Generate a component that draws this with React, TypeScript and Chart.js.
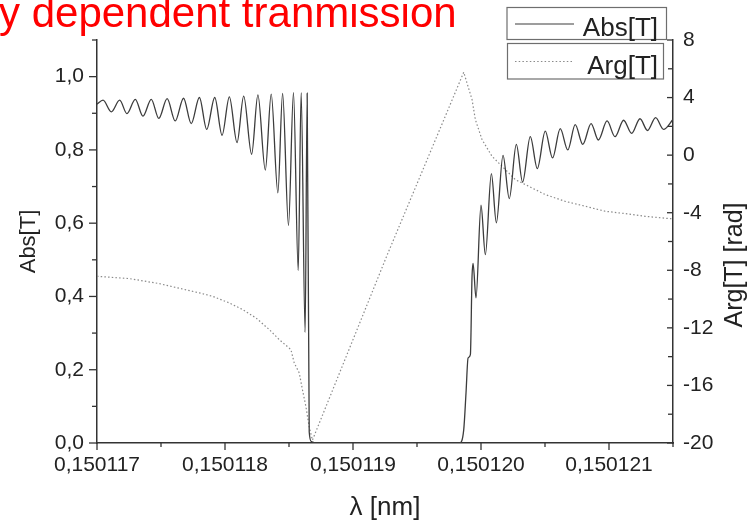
import React, { useEffect, useRef } from 'react';
import { Chart, registerables } from 'chart.js';

Chart.register(...registerables);

const FONT = '"Liberation Sans", Arial, Helvetica, sans-serif';

// x values are offsets in units of 1e-6 nm from 0.150117 nm
const absX = [0, 0.047, 0.112, 0.177, 0.234, 0.299, 0.359, 0.424, 0.483, 0.548, 0.611, 0.676, 0.736, 0.8, 0.857, 0.92, 0.977, 1.034, 1.094, 1.146, 1.208, 1.257, 1.315, 1.361, 1.413, 1.45, 1.496, 1.535, 1.572, 1.595, 1.626, 1.642, 1.658, 1.675, 1.72, 2.3, 2.832, 2.865, 2.883, 2.899, 2.917, 2.93, 2.938, 2.961, 3.0, 3.034, 3.081, 3.12, 3.172, 3.221, 3.276, 3.325, 3.385, 3.44, 3.502, 3.559, 3.619, 3.678, 3.736, 3.795, 3.86, 3.917, 3.985, 4.047, 4.114, 4.177, 4.242, 4.301, 4.364, 4.426, 4.5];
const absY = [0.925, 0.936, 0.904, 0.936, 0.899, 0.938, 0.892, 0.938, 0.886, 0.94, 0.879, 0.941, 0.872, 0.943, 0.856, 0.943, 0.84, 0.945, 0.82, 0.947, 0.788, 0.95, 0.745, 0.952, 0.683, 0.954, 0.594, 0.956, 0.471, 0.956, 0.302, 0.955, 0.03, 0.004, 0, 0, 0, 0.036, 0.137, 0.232, 0.241, 0.455, 0.49, 0.396, 0.649, 0.514, 0.735, 0.601, 0.785, 0.667, 0.815, 0.712, 0.836, 0.749, 0.851, 0.778, 0.858, 0.8, 0.869, 0.815, 0.872, 0.827, 0.879, 0.836, 0.881, 0.845, 0.885, 0.853, 0.888, 0.856, 0.883];

const argX = [0, 0.255, 0.489, 0.8, 0.904, 1.034, 1.138, 1.242, 1.346, 1.424, 1.515, 1.541, 1.58, 1.605, 1.632, 1.657, 1.683, 2.265, 2.865, 2.93, 2.956, 3.008, 3.086, 3.164, 3.268, 3.372, 3.502, 3.658, 3.814, 3.97, 4.125, 4.281, 4.5];
const argY = [-8.42, -8.58, -8.93, -9.57, -9.81, -10.27, -10.73, -11.31, -12.12, -12.82, -13.51, -14.44, -15.13, -16.3, -17.46, -18.85, -19.8, -6.98, 5.76, 3.86, 2.47, 1.08, -0.08, -0.77, -1.7, -2.16, -2.74, -3.21, -3.55, -3.9, -4.06, -4.25, -4.43];

const xTickLabels = ['0,150117', '0,150118', '0,150119', '0,150120', '0,150121'];
const leftTickLabels = ['0,0', '0,2', '0,4', '0,6', '0,8', '1,0'];
const rightTickLabels = ['-20', '-16', '-12', '-8', '-4', '0', '4', '8'];
const seriesNames = ['Abs[T]', 'Arg[T]'];
const titleText = 'y dependent tranmission';
const xTitle = 'λ [nm]';
const yTitle = 'Abs[T]';
const y2Title = 'Arg[T] [rad]';

const AXIS = '#333333';
const TEXT = '#222222';

const extrasPlugin = {
  id: 'extras',
  afterDraw(chart: any) {
    const ctx = chart.ctx;
    const area = chart.chartArea;
    const xs = chart.scales.x;
    const ys = chart.scales.y;
    const y2s = chart.scales.y2;
    ctx.save();
    ctx.strokeStyle = AXIS;
    ctx.lineWidth = 1.3;
    ctx.setLineDash([]);
    const line = (x1: number, y1: number, x2: number, y2: number) => {
      ctx.beginPath();
      ctx.moveTo(x1, y1);
      ctx.lineTo(x2, y2);
      ctx.stroke();
    };
    // x ticks (major + minor), outward
    for (let k = 0; k <= 9; k++) {
      const px = xs.getPixelForValue(k * 0.5);
      line(px, area.bottom, px, area.bottom + (k % 2 === 0 ? 7 : 4));
    }
    // left ticks, outward
    for (let k = 0; k <= 11; k++) {
      const py = ys.getPixelForValue(k * 0.1);
      line(area.left - (k % 2 === 0 ? 8 : 5), py, area.left, py);
    }
    // right ticks, inward
    for (let k = 0; k <= 14; k++) {
      const py = y2s.getPixelForValue(-20 + k * 2);
      line(area.right - (k % 2 === 0 ? 6 : 5), py, area.right, py);
    }

    // right axis title (reads bottom to top)
    ctx.fillStyle = TEXT;
    ctx.font = `25px ${FONT}`;
    ctx.textAlign = 'center';
    ctx.textBaseline = 'middle';
    ctx.save();
    ctx.translate(735, 265);
    ctx.rotate(-Math.PI / 2);
    ctx.fillText(y2Title, 0, 0);
    ctx.restore();

    // legend
    const boxes = [
      { x: 507, y: 7.5, w: 159.5, h: 32, sy: 24, ty: 35.5, dash: [] as number[], color: '#3c3c3c' },
      { x: 507.5, y: 43.5, w: 156, h: 35.5, sy: 61.5, ty: 73.5, dash: [1.5, 2.2], color: '#8a8a8a' },
    ];
    boxes.forEach((b, i) => {
      ctx.setLineDash([]);
      ctx.fillStyle = '#ffffff';
      ctx.fillRect(b.x, b.y, b.w, b.h);
      ctx.strokeStyle = '#6e6e6e';
      ctx.lineWidth = 1.2;
      ctx.strokeRect(b.x, b.y, b.w, b.h);
      ctx.strokeStyle = b.color;
      ctx.lineWidth = 1.2;
      ctx.setLineDash(b.dash);
      line(515, b.sy, 574, b.sy);
      ctx.setLineDash([]);
      ctx.fillStyle = TEXT;
      ctx.font = `26px ${FONT}`;
      ctx.textAlign = 'right';
      ctx.textBaseline = 'alphabetic';
      ctx.fillText(seriesNames[i], 658, b.ty);
    });

    // red title
    ctx.fillStyle = '#ff0000';
    ctx.font = `42px ${FONT}`;
    ctx.textAlign = 'left';
    ctx.textBaseline = 'alphabetic';
    ctx.fillText(titleText, -1, 27);
    ctx.restore();
  },
};

export default function App() {
  const canvasRef = useRef<HTMLCanvasElement | null>(null);

  useEffect(() => {
    if (!canvasRef.current) return;
    const chart = new Chart(canvasRef.current, {
      type: 'line',
      data: {
        datasets: [
          {
            label: seriesNames[0],
            data: absX.map((x, i) => ({ x, y: absY[i] })),
            borderColor: '#3c3c3c',
            borderWidth: 1.3,
            pointRadius: 0,
            cubicInterpolationMode: 'monotone',
            yAxisID: 'y',
          },
          {
            label: seriesNames[1],
            data: argX.map((x, i) => ({ x, y: argY[i] })),
            borderColor: '#8a8a8a',
            borderWidth: 1.2,
            borderDash: [1.5, 2.2],
            pointRadius: 0,
            tension: 0,
            yAxisID: 'y2',
          },
        ],
      },
      options: {
        animation: false,
        responsive: false,
        layout: { padding: { top: 40, left: 0, right: 0, bottom: 0 } },
        plugins: {
          legend: { display: false },
          tooltip: { enabled: false },
          title: { display: false },
        },
        scales: {
          x: {
            type: 'linear',
            position: 'bottom',
            min: 0,
            max: 4.5,
            afterFit: (s: any) => { s.height = 78; },
            grid: { display: false, drawTicks: false },
            border: { display: true, color: AXIS, width: 1.5 },
            ticks: {
              stepSize: 1,
              includeBounds: false,
              autoSkip: false,
              maxRotation: 0,
              padding: 10,
              color: TEXT,
              font: { family: FONT, size: 21 },
              callback: (v: any) => {
                const r = Math.round(Number(v));
                return Math.abs(Number(v) - r) < 1e-6 && xTickLabels[r] !== undefined ? xTickLabels[r] : '';
              },
            },
            title: {
              display: true,
              text: xTitle,
              color: TEXT,
              font: { family: FONT, size: 26, lineHeight: 1 },
              padding: { top: 0, bottom: 0 },
            },
          },
          y: {
            type: 'linear',
            position: 'left',
            min: 0,
            max: 1.1,
            afterFit: (s: any) => { s.width = 97; },
            grid: { display: false, drawTicks: false },
            border: { display: true, color: AXIS, width: 1.5 },
            ticks: {
              stepSize: 0.2,
              includeBounds: false,
              autoSkip: false,
              padding: 13,
              color: TEXT,
              font: { family: FONT, size: 21 },
              callback: (v: any) => {
                const k = Math.round(Number(v) / 0.2);
                return leftTickLabels[k] ?? '';
              },
            },
            title: {
              display: true,
              text: yTitle,
              color: TEXT,
              font: { family: FONT, size: 22 },
              padding: { top: 16, bottom: 0 },
            },
          },
          y2: {
            type: 'linear',
            position: 'right',
            min: -20,
            max: 8,
            afterFit: (s: any) => { s.width = 76; },
            grid: { display: false, drawTicks: false },
            border: { display: true, color: AXIS, width: 1.5 },
            ticks: {
              stepSize: 4,
              autoSkip: false,
              padding: 10,
              color: TEXT,
              font: { family: FONT, size: 21 },
              callback: (v: any) => {
                const k = Math.round((Number(v) + 20) / 4);
                return rightTickLabels[k] ?? '';
              },
            },
            title: { display: false },
          },
        },
      },
      plugins: [extrasPlugin],
    } as any);
    return () => chart.destroy();
  }, []);

  return (
    <div style={{ position: 'absolute', left: 0, top: 0, width: 749, height: 521, background: '#fff' }}>
      <canvas ref={canvasRef} width={749} height={521} style={{ width: 749, height: 521, display: 'block' }} />
    </div>
  );
}
